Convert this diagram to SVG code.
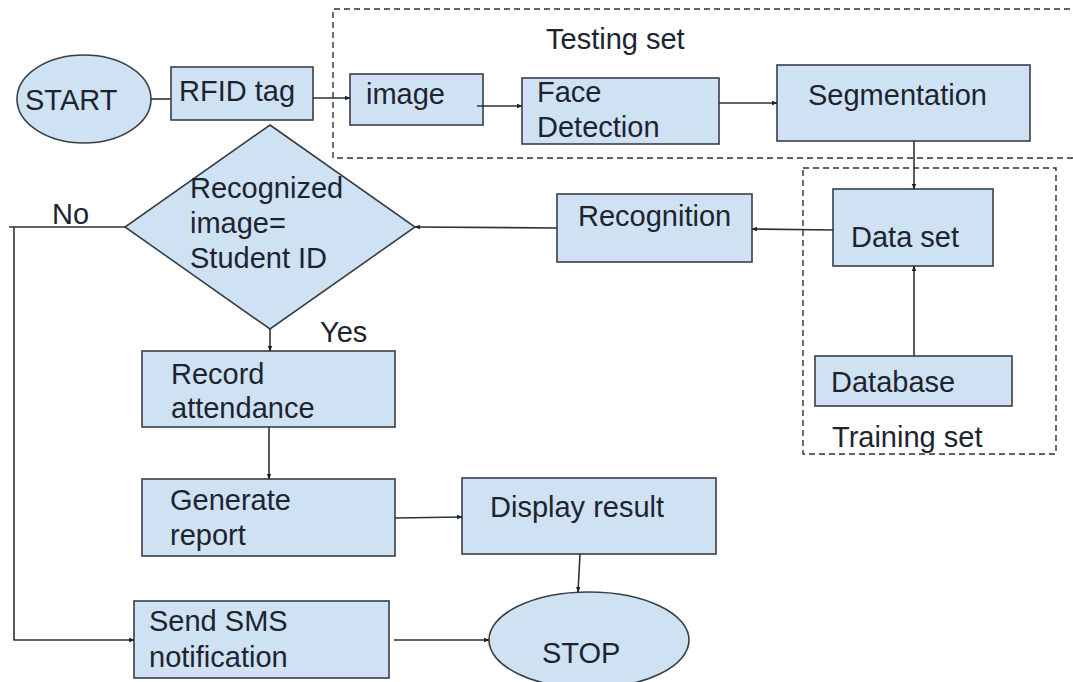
<svg xmlns="http://www.w3.org/2000/svg" width="1073" height="682" viewBox="0 0 1073 682">
  <style>
    .node { fill: #cfe2f3; stroke: #3a3f45; stroke-width: 1.6; }
    .lbl { font-family: "Liberation Sans", Arial, sans-serif; font-size: 29px; fill: #1d2430; }
    .edge { fill: none; stroke: #2e3236; stroke-width: 1.6; }
    .group { fill: none; stroke: #2e3236; stroke-width: 1.4; stroke-dasharray: 6 4; }
  </style>
  <defs>
    <marker id="arrow" viewBox="0 0 10 10" refX="9" refY="5" markerWidth="5.5" markerHeight="5.5" orient="auto" markerUnits="userSpaceOnUse">
      <path d="M0,1 L10,5 L0,9 z" fill="#1d2024"/>
    </marker>
  </defs>
  <rect width="1073" height="682" fill="#ffffff"/>

  <!-- dashed group outlines -->
  <g id="testing-set">
    <path class="group" d="M1080,9 H333 V158 H1080"/>
    <text class="lbl" x="546" y="49">Testing set</text>
  </g>
  <g id="training-set">
    <rect class="group" x="803" y="168" width="253" height="286"/>
    <text class="lbl" x="832" y="447">Training set</text>
  </g>

  <!-- nodes -->
  <g id="start">
    <ellipse class="node" cx="84" cy="99" rx="67" ry="44"/>
    <text class="lbl" x="25" y="110">START</text>
  </g>
  <g id="rfid-tag">
    <rect class="node" x="171" y="67" width="142" height="53"/>
    <text class="lbl" x="179" y="101">RFID tag</text>
  </g>
  <g id="image">
    <rect class="node" x="350" y="74" width="133" height="51"/>
    <text class="lbl" x="366" y="104">image</text>
  </g>
  <g id="face-detection">
    <rect class="node" x="522" y="78" width="197" height="66"/>
    <text class="lbl" x="537" y="102">Face</text>
    <text class="lbl" x="537" y="137">Detection</text>
  </g>
  <g id="segmentation">
    <rect class="node" x="777" y="65" width="253" height="76"/>
    <text class="lbl" x="808" y="105">Segmentation</text>
  </g>
  <g id="data-set">
    <rect class="node" x="833" y="189" width="160" height="77"/>
    <text class="lbl" x="851" y="247">Data set</text>
  </g>
  <g id="database">
    <rect class="node" x="815" y="356" width="197" height="50"/>
    <text class="lbl" x="831" y="392">Database</text>
  </g>
  <g id="recognition">
    <rect class="node" x="557" y="194" width="195" height="68"/>
    <text class="lbl" x="578" y="226">Recognition</text>
  </g>
  <g id="decision">
    <polygon class="node" points="270,125 415,227 270,329 125,227"/>
    <text class="lbl" x="190" y="198">Recognized</text>
    <text class="lbl" x="190" y="233">image=</text>
    <text class="lbl" x="190" y="268">Student ID</text>
  </g>
  <g id="record-attendance">
    <rect class="node" x="142" y="351" width="253" height="76"/>
    <text class="lbl" x="171" y="384">Record</text>
    <text class="lbl" x="171" y="418">attendance</text>
  </g>
  <g id="generate-report">
    <rect class="node" x="142" y="479" width="253" height="77"/>
    <text class="lbl" x="170" y="510">Generate</text>
    <text class="lbl" x="170" y="545">report</text>
  </g>
  <g id="display-result">
    <rect class="node" x="462" y="478" width="254" height="76"/>
    <text class="lbl" x="490" y="517">Display result</text>
  </g>
  <g id="send-sms">
    <rect class="node" x="134" y="601" width="255" height="77"/>
    <text class="lbl" x="149" y="631">Send SMS</text>
    <text class="lbl" x="149" y="667">notification</text>
  </g>
  <g id="stop">
    <ellipse class="node" cx="589" cy="640" rx="100" ry="48"/>
    <text class="lbl" x="542" y="663">STOP</text>
  </g>

  <!-- connectors -->
  <g id="connectors">
    <line class="edge" x1="151" y1="99" x2="171" y2="99"/>
    <line class="edge" x1="313" y1="98" x2="350" y2="98" marker-end="url(#arrow)"/>
    <line class="edge" x1="477" y1="106" x2="522" y2="106" marker-end="url(#arrow)"/>
    <line class="edge" x1="719" y1="103" x2="777" y2="103" marker-end="url(#arrow)"/>
    <line class="edge" x1="914" y1="141" x2="914" y2="189" marker-end="url(#arrow)"/>
    <line class="edge" x1="914" y1="356" x2="914" y2="266" marker-end="url(#arrow)"/>
    <line class="edge" x1="833" y1="230" x2="752" y2="229" marker-end="url(#arrow)"/>
    <line class="edge" x1="557" y1="228" x2="415" y2="227" marker-end="url(#arrow)"/>
    <path class="edge" d="M125,227 H9 M14,227 V640 H134" marker-end="url(#arrow)"/>
    <line class="edge" x1="270" y1="329" x2="270" y2="351" marker-end="url(#arrow)"/>
    <line class="edge" x1="269" y1="427" x2="269" y2="479" marker-end="url(#arrow)"/>
    <line class="edge" x1="395" y1="518" x2="462" y2="517" marker-end="url(#arrow)"/>
    <line class="edge" x1="580" y1="554" x2="578" y2="592" marker-end="url(#arrow)"/>
    <line class="edge" x1="394" y1="640" x2="489" y2="640" marker-end="url(#arrow)"/>
  </g>
  <g id="branch-labels">
    <text class="lbl" x="52" y="224">No</text>
    <text class="lbl" x="320" y="342">Yes</text>
  </g>
</svg>
